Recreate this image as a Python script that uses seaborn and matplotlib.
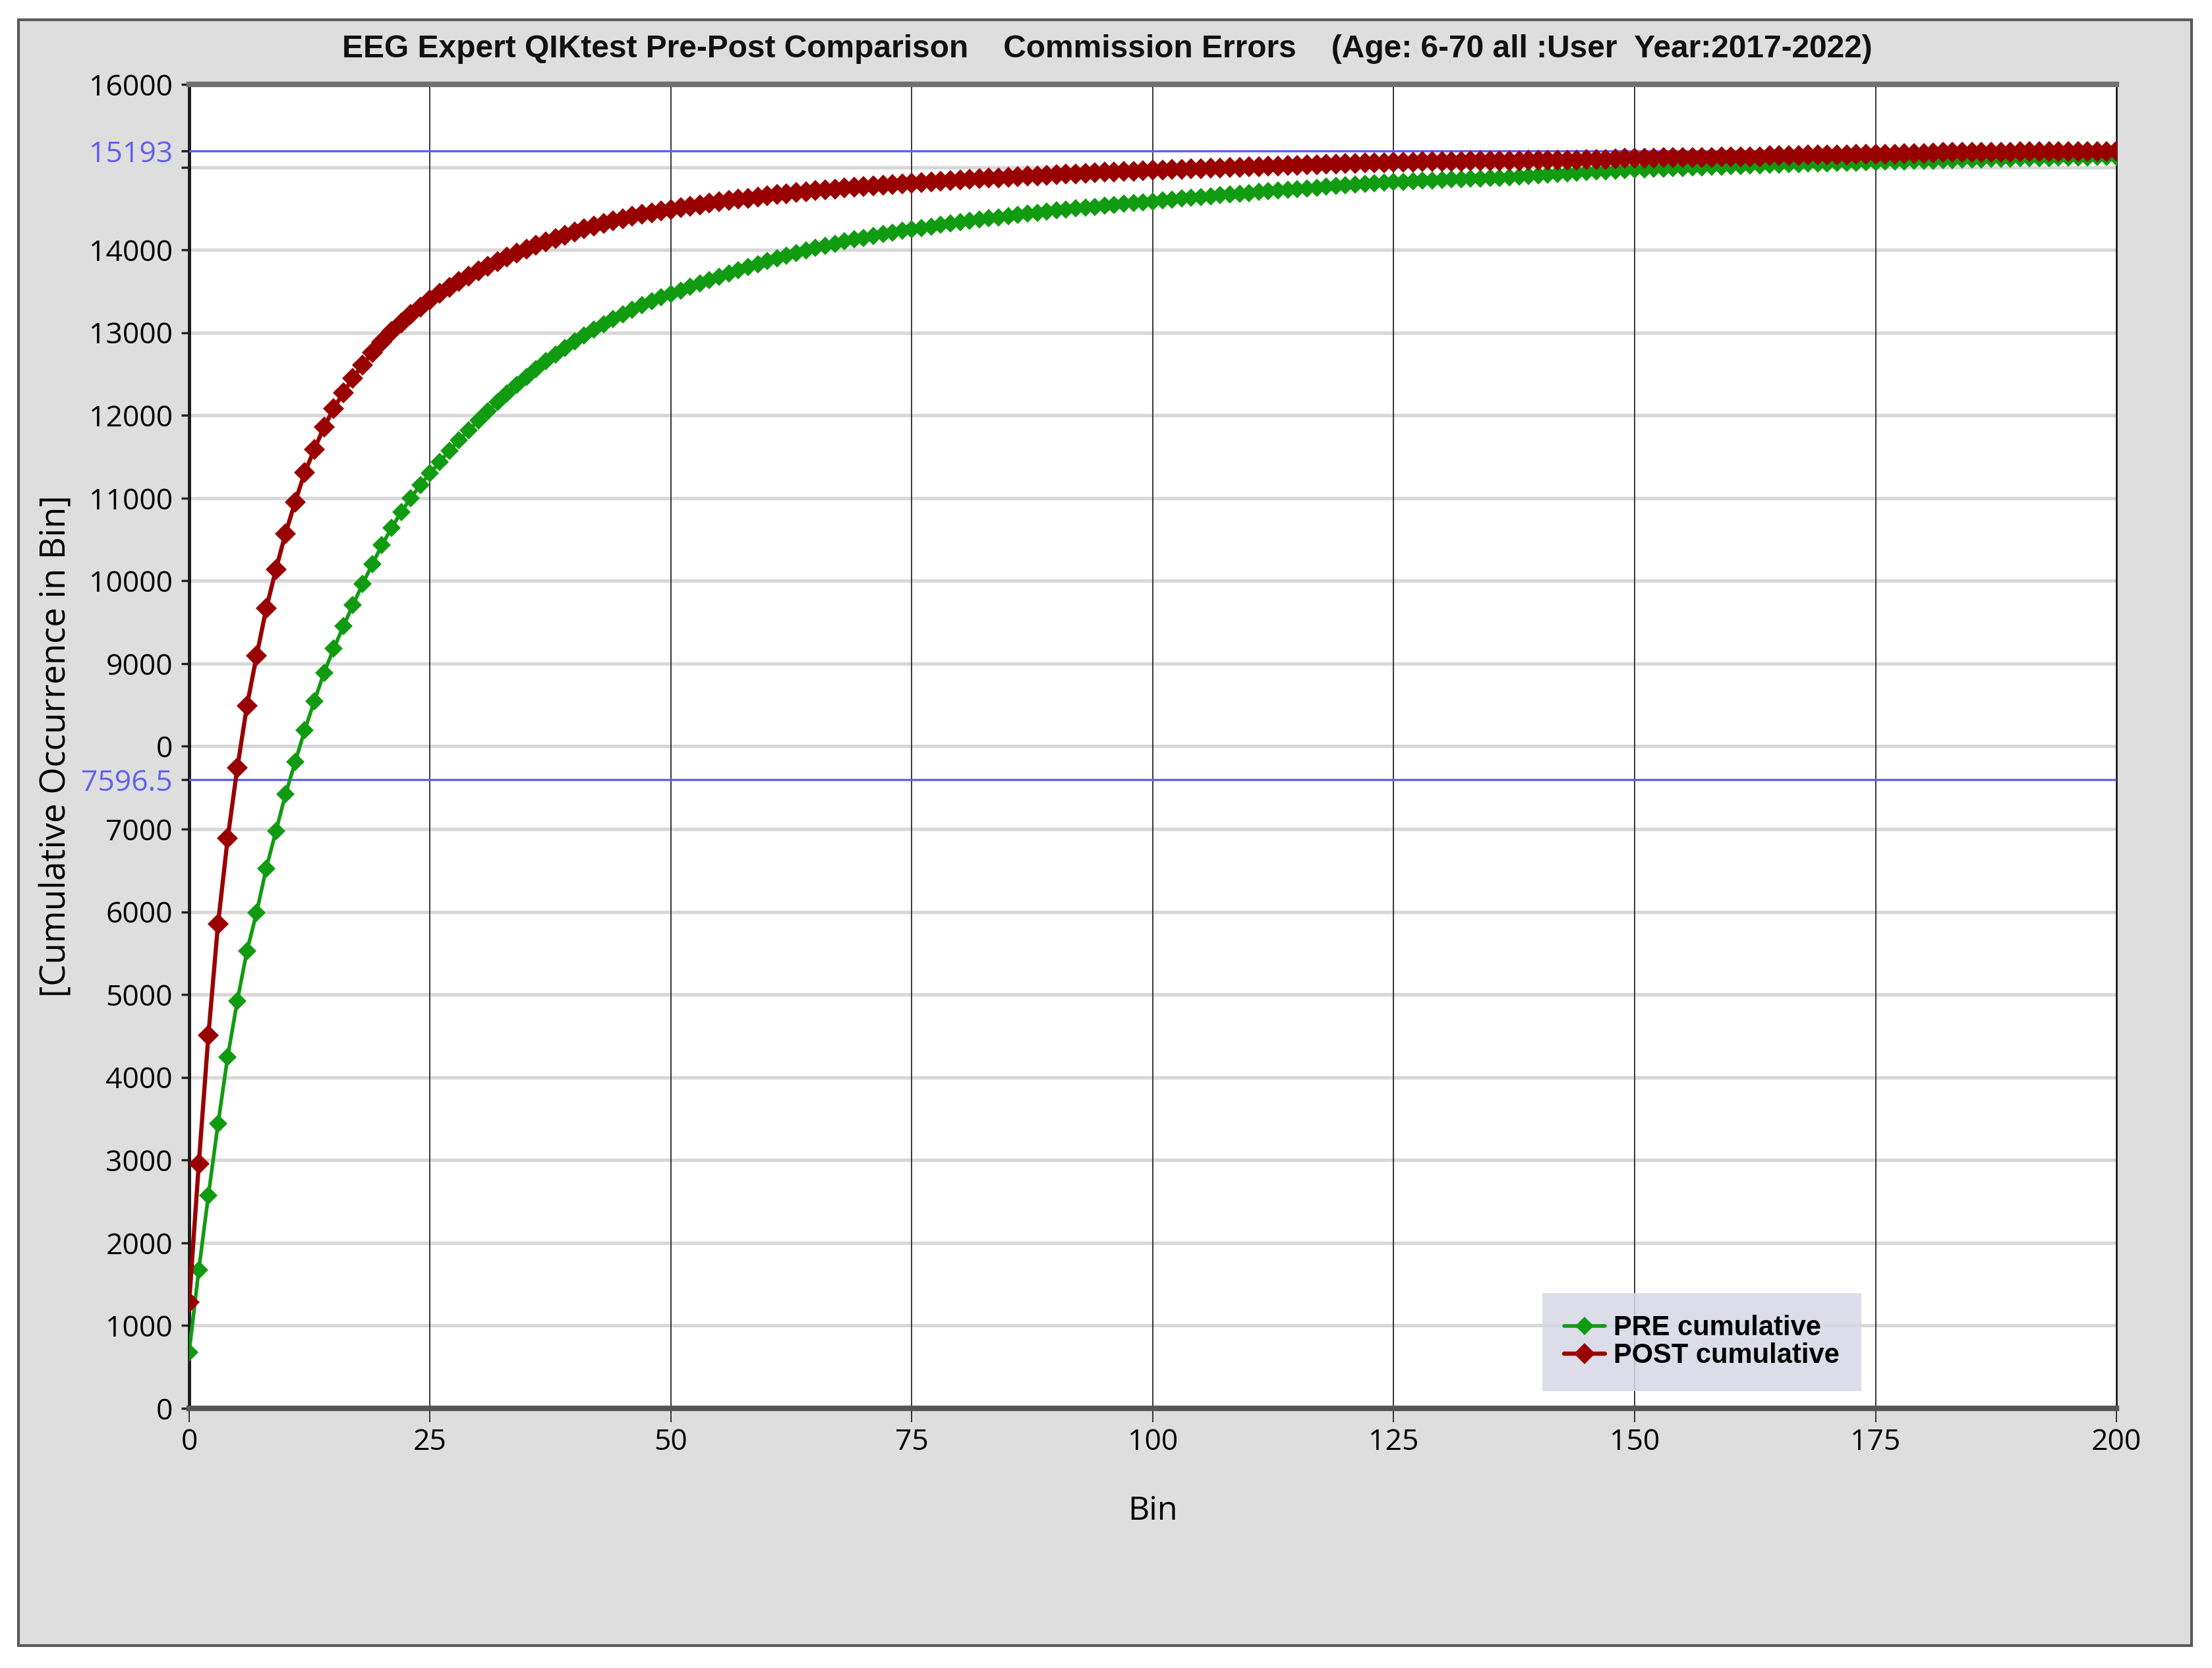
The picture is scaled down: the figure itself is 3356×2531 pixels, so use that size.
import matplotlib
matplotlib.use("Agg")
import matplotlib.pyplot as plt
from matplotlib.patches import Rectangle
import seaborn as sns

# ---------------- data ----------------
bins = list(range(201))

pre_cumulative = [
    677, 1673, 2575, 3440, 4248, 4925, 5526, 5990, 6525, 6973,
    7420, 7809, 8198, 8549, 8890, 9180, 9450, 9710, 9960, 10200,
    10430, 10640, 10830, 11000, 11160, 11300, 11440, 11570, 11700, 11820,
    11935, 12048, 12158, 12264, 12367, 12467, 12563, 12652, 12737, 12818,
    12895, 12968, 13037, 13102, 13164, 13222, 13277, 13329, 13378, 13424,
    13467, 13510, 13552, 13594, 13635, 13675, 13715, 13754, 13792, 13829,
    13865, 13899, 13932, 13964, 13995, 14025, 14050, 14076, 14101, 14125,
    14148, 14170, 14191, 14211, 14230, 14248, 14266, 14284, 14301, 14318,
    14334, 14350, 14365, 14380, 14395, 14409, 14423, 14437, 14450, 14463,
    14476, 14488, 14500, 14512, 14523, 14534, 14545, 14556, 14566, 14576,
    14586, 14597, 14608, 14619, 14630, 14640, 14650, 14660, 14670, 14680,
    14690, 14700, 14709, 14718, 14727, 14736, 14745, 14754, 14763, 14771,
    14779, 14787, 14795, 14803, 14811, 14819, 14825, 14830, 14835, 14840,
    14845, 14850, 14855, 14860, 14864, 14868, 14873, 14878, 14884, 14890,
    14898, 14906, 14914, 14922, 14930, 14938, 14946, 14953, 14960, 14966,
    14972, 14976, 14980, 14984, 14988, 14992, 14996, 15000, 15004, 15008,
    15012, 15016, 15020, 15024, 15028, 15032, 15035, 15038, 15041, 15044,
    15047, 15050, 15053, 15056, 15059, 15062, 15065, 15068, 15071, 15074,
    15077, 15080, 15083, 15086, 15089, 15092, 15095, 15098, 15101, 15104,
    15106, 15108, 15110, 15112, 15114, 15116, 15118, 15120, 15122, 15124,
    15126,
]

post_cumulative = [
    1278, 2951, 4511, 5855, 6887, 7739, 8490, 9093, 9665, 10136,
    10572, 10953, 11310, 11590, 11860, 12080, 12275, 12450, 12610, 12755,
    12890, 13010, 13120, 13220, 13310, 13395, 13475, 13550, 13620, 13686,
    13748, 13806, 13861, 13913, 13962, 14008, 14054, 14098, 14140, 14180,
    14218, 14254, 14288, 14320, 14350, 14378, 14404, 14428, 14450, 14471,
    14491, 14510, 14528, 14546, 14563, 14580, 14596, 14611, 14626, 14640,
    14654, 14667, 14680, 14692, 14704, 14715, 14726, 14737, 14747, 14757,
    14766, 14775, 14784, 14792, 14800, 14808, 14816, 14824, 14831, 14838,
    14845, 14852, 14859, 14866, 14872, 14878, 14884, 14890, 14896, 14902,
    14908, 14914, 14920, 14926, 14932, 14938, 14943, 14948, 14953, 14958,
    14963, 14967, 14971, 14975, 14979, 14983, 14987, 14991, 14995, 14999,
    15003, 15007, 15011, 15015, 15019, 15023, 15027, 15031, 15035, 15039,
    15043, 15046, 15049, 15052, 15055, 15058, 15060, 15062, 15066, 15068,
    15070, 15071, 15072, 15074, 15075, 15076, 15078, 15079, 15080, 15082,
    15083, 15084, 15086, 15087, 15088, 15090, 15091, 15092, 15104, 15106,
    15108, 15110, 15111, 15113, 15114, 15116, 15117, 15119, 15120, 15122,
    15123, 15125, 15126, 15128, 15140, 15141, 15143, 15144, 15146, 15147,
    15149, 15150, 15152, 15153, 15155, 15156, 15158, 15159, 15161, 15162,
    15163, 15176, 15177, 15178, 15179, 15180, 15181, 15182, 15183, 15184,
    15185, 15186, 15187, 15188, 15189, 15190, 15190, 15191, 15192, 15192,
    15193,
]

series_labels = ["PRE cumulative", "POST cumulative"]
reference_values = [15193, 7596.5]
reference_labels = ["15193", "7596.5"]

y_tick_values = [0, 1000, 2000, 3000, 4000, 5000, 6000, 7000, 8000, 9000,
                 10000, 11000, 12000, 13000, 14000, 15000, 16000]
y_tick_labels = ["0", "1000", "2000", "3000", "4000", "5000", "6000", "7000",
                 "0", "9000", "10000", "11000", "12000", "13000", "14000",
                 "", "16000"]
x_tick_values = [0, 25, 50, 75, 100, 125, 150, 175, 200]
x_tick_labels = ["0", "25", "50", "75", "100", "125", "150", "175", "200"]

title_text = ("EEG Expert QIKtest Pre-Post Comparison    Commission Errors    "
              "(Age: 6-70 all :User  Year:2017-2022)")
x_label = "Bin"
y_label = "[Cumulative Occurrence in Bin]"

# ---------------- style ----------------
sns.set_style("white")
plt.rcParams["font.family"] = ["Open Sans", "DejaVu Sans"]
plt.rcParams["text.color"] = "black"
plt.rcParams["axes.labelcolor"] = "black"
plt.rcParams["xtick.color"] = "black"
plt.rcParams["ytick.color"] = "black"
NARROW = ["Liberation Sans Narrow", "Liberation Sans", "DejaVu Sans"]

GREEN = "#119b11"
RED = "#990000"
BLUE = "#6060ee"

fig = plt.figure(figsize=(33.56, 25.31), dpi=100, facecolor="white")
fig.patches.append(Rectangle((0.0083, 0.0134), 0.9825, 0.9746,
                             transform=fig.transFigure, facecolor="#dedede",
                             edgecolor="#5a5a5a", lw=3, zorder=-10))

ax = fig.add_axes([0.0855, 0.1557, 0.8713, 0.7937])
ax.set_zorder(2)
ax.set_facecolor("white")
ax.set_xlim(0, 200)
ax.set_ylim(0, 16000)

# grid lines
for v in y_tick_values[1:-1]:
    ax.axhline(v, color="#d8d8d8", lw=3.8, zorder=1)
for v in x_tick_values[1:-1]:
    ax.axvline(v, color="#262626", lw=1.3, zorder=2)

# reference lines
for v in reference_values:
    ax.axhline(v, color=BLUE, lw=2.4, zorder=3)

sns.lineplot(x=bins, y=pre_cumulative, color=GREEN, marker="D", markersize=14,
             markeredgewidth=0, linewidth=4.0, label=series_labels[0], ax=ax,
             zorder=4)
sns.lineplot(x=bins, y=post_cumulative, color=RED, marker="D", markersize=16,
             markeredgewidth=0, linewidth=4.6, label=series_labels[1], ax=ax,
             zorder=5)

# ticks
all_y_ticks = y_tick_values + reference_values
all_y_labels = y_tick_labels + reference_labels
ax.set_yticks(all_y_ticks)
ax.set_yticklabels(all_y_labels)
ax.set_xticks(x_tick_values)
ax.set_xticklabels(x_tick_labels)
ax.tick_params(axis="y", length=9, width=2.5, pad=9, labelsize=32,
               color="#222222", left=True)
ax.tick_params(axis="x", length=15, width=1.3, pad=6, labelsize=32,
               color="#222222", bottom=True)
n = len(y_tick_values)
for i, lab in enumerate(ax.get_yticklabels()):
    if i >= n:
        lab.set_color(BLUE)
for i, t in enumerate(ax.yaxis.get_major_ticks()):
    if i >= n:
        t.tick1line.set_color(BLUE)

# spines
ax.spines["left"].set(color="#1a1a1a", lw=3.5)
ax.spines["right"].set(color="#1a1a1a", lw=2)
ax.spines["top"].set(color="#707070", lw=6)
ax.spines["bottom"].set(color="#555555", lw=6)

# labels
ax.set_ylabel(y_label, fontsize=38)
ax.yaxis.set_label_coords(-0.0690, 0.5)
ax.yaxis.label.set_va("center")
ax.set_xlabel(x_label, fontsize=36)
ax.xaxis.set_label_coords(0.5, -0.078)
ax.xaxis.label.set_va("center")

fig.text(0.5006, 0.9704, title_text, ha="center", va="center", fontsize=34.5,
         fontweight="bold", family=NARROW, color="#111111")

leg = ax.legend(loc="lower left", bbox_to_anchor=(0.702, 0.013),
                prop={"family": NARROW, "weight": "bold", "size": 30},
                frameon=True, fancybox=False, handlelength=1.5,
                handletextpad=0.3, labelspacing=0.05, borderpad=0.8,
                borderaxespad=0)
leg.get_frame().set_facecolor("#d8d8e6")
leg.get_frame().set_edgecolor("none")
leg.get_frame().set_alpha(0.85)

fig.savefig("out.png", dpi=100, facecolor="white")
